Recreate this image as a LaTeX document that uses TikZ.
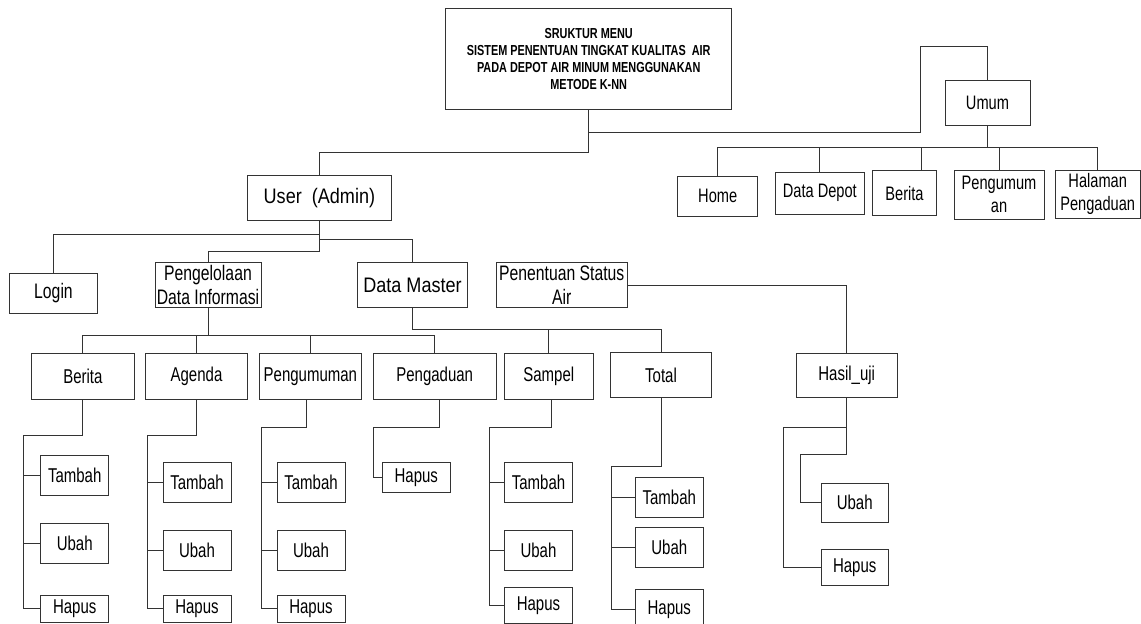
\documentclass[tikz,border=0pt]{standalone}
\usepackage{fontspec}
\newfontfamily\nar[FakeStretch=0.75]{Liberation Sans}
\newfontfamily\narw[FakeStretch=0.86]{Liberation Sans}
\begin{document}
\begin{tikzpicture}[x=1pt,y=-1pt,
  box/.style={draw=black!80, line width=0.9pt, inner sep=0pt, align=center, font=\nar\fontsize{20}{22}\selectfont},
  topbox/.style={box, font=\nar\fontsize{19.5}{22.5}\selectfont},
  big/.style={box, font=\nar\fontsize{21}{23.5}\selectfont},
  bigw/.style={box, font=\narw\fontsize{21}{23.5}\selectfont},
  ttl/.style={box, font=\nar\bfseries\fontsize{14.5}{17}\selectfont},
  conn/.style={draw=black!80, line width=0.9pt}]
\useasboundingbox (0,0) rectangle (1141,624);
% top
\node[ttl, minimum width=286, minimum height=101] (title) at (588.7,58.8)
  {SRUKTUR MENU\\SISTEM PENENTUAN TINGKAT KUALITAS\ \ AIR\\PADA DEPOT AIR MINUM MENGGUNAKAN\\METODE K-NN};
\node[topbox, minimum width=85, minimum height=45.7] (umum) at (987.5,102.9) {Umum};
\node[topbox, minimum width=80, minimum height=40.7] (home) at (717.7,196.3) {Home};
\node[topbox, minimum width=89, minimum height=42] (depot) at (819.8,193.3) {Data Depot};
\node[topbox, minimum width=64.4, minimum height=45] (uberita) at (904.5,193.2) {Berita};
\node[topbox, minimum width=90, minimum height=49] (upengum) at (999,194.5) {Pengumum\\an};
\node[topbox, minimum width=84.7, minimum height=48.3] (halaman) at (1097.7,194.2) {Halaman\\Pengaduan};
% level 1-2
\node[bigw, minimum width=143.8, minimum height=45.5] (user) at (319.4,197.8) {User\ \ (Admin)};
\node[big, minimum width=88.4, minimum height=40] (login) at (53.5,293.3) {Login};
\node[big, minimum width=106, minimum height=45] (pengel) at (208,285.2) {Pengelolaan\\Data Informasi};
\node[bigw, minimum width=110.4, minimum height=44.6] (dmaster) at (412.5,285) {Data Master};
\node[big, minimum width=131.3, minimum height=45.4] (penentuan) at (561.7,285) {Penentuan Status\\Air};
% level 3
\node[box, minimum width=102.3, minimum height=45.7] (berita) at (82.9,376.2) {Berita};
\node[box, minimum width=101.6, minimum height=45.7] (agenda) at (196.5,376.2) {Agenda};
\node[box, minimum width=101.3, minimum height=45.7] (pengumuman) at (310.4,376.2) {Pengumuman};
\node[box, minimum width=122.7, minimum height=45.7] (pengaduan) at (434.7,376.2) {Pengaduan};
\node[box, minimum width=89, minimum height=45.7] (sampel) at (548.8,376.2) {Sampel};
\node[box, minimum width=101.4, minimum height=45] (total) at (661,375.2) {Total};
\node[box, minimum width=101.3, minimum height=44.7] (hasil) at (846.7,375.3) {Hasil\_uji};
% level 4
\node[box, minimum width=68, minimum height=39.7] (bT) at (74.7,475.2) {Tambah};
\node[box, minimum width=68, minimum height=40] (bU) at (74.7,543) {Ubah};
\node[box, minimum width=68, minimum height=27.5] (bH) at (74.7,608.8) {Hapus};
\node[box, minimum width=68, minimum height=40] (aT) at (197,482.3) {Tambah};
\node[box, minimum width=68, minimum height=39.7] (aU) at (197,550.2) {Ubah};
\node[box, minimum width=68, minimum height=27.5] (aH) at (197,608.8) {Hapus};
\node[box, minimum width=68, minimum height=40] (pT) at (311,482.3) {Tambah};
\node[box, minimum width=68, minimum height=39.7] (pU) at (311,550.2) {Ubah};
\node[box, minimum width=68, minimum height=27.5] (pH) at (311,608.8) {Hapus};
\node[box, minimum width=67.3, minimum height=29.7] (dH) at (416.3,477.2) {Hapus};
\node[box, minimum width=67.6, minimum height=40] (sT) at (538.5,482.3) {Tambah};
\node[box, minimum width=67.6, minimum height=39.7] (sU) at (538.5,550.2) {Ubah};
\node[box, minimum width=67.6, minimum height=35.3] (sH) at (538.5,605.4) {Hapus};
\node[box, minimum width=68, minimum height=40] (tT) at (669.3,497) {Tambah};
\node[box, minimum width=68, minimum height=39.6] (tU) at (669.3,547.5) {Ubah};
\node[box, minimum width=68, minimum height=40.7] (tH) at (669.3,609.7) {Hapus};
\node[box, minimum width=67.3, minimum height=39.3] (hU) at (854.7,502.7) {Ubah};
\node[box, minimum width=67.3, minimum height=36] (hH) at (854.7,567.3) {Hapus};
% connectors: top
\draw[conn] (title.south) -- (588.7,152.7) -| (user.north);
\draw[conn] (588.7,132.3) -| (920.7,46) -| (umum.north);
\coordinate (ub) at (0,147.3);
\coordinate (ubx) at (921.7,0);
\draw[conn] (umum.south) -- (umum.south |- ub);
\draw[conn] (home.north) |- (halaman.north |- ub) -- (halaman.north);
\draw[conn] (depot.north) -- (depot.north |- ub);
\draw[conn] (uberita.north -| ubx) -- (ub -| ubx);
\draw[conn] (upengum.north) -- (upengum.north |- ub);
% user
\draw[conn] (user.south) -- ([yshift=-30.5pt]user.south) -| (pengel.north);
\draw[conn] ([yshift=-13.5pt]user.south) -| (login.north);
\draw[conn] ([yshift=-18.8pt]user.south) -| (dmaster.north);
% pengelolaan bus
\coordinate (pb) at (0,335);
\draw[conn] (pengel.south) -- (pengel.south |- pb);
\draw[conn] (berita.north) |- (pengaduan.north |- pb) -- (pengaduan.north);
\draw[conn] (agenda.north) -- (agenda.north |- pb);
\draw[conn] (pengumuman.north) -- (pengumuman.north |- pb);
% data master bus
\coordinate (db) at (0,329.3);
\draw[conn] (dmaster.south) |- (total.north |- db) -- (total.north);
\draw[conn] (sampel.north) -- (sampel.north |- db);
% penentuan
\draw[conn] (penentuan.east) -| (hasil.north);
% berita children
\coordinate (bx) at (23.7,435);
\draw[conn] (berita.south) |- (bx) |- (bH.west);
\draw[conn] (bT.west) -- (bT.west -| bx);
\draw[conn] (bU.west) -- (bU.west -| bx);
% agenda children
\coordinate (ax) at (147,435);
\draw[conn] (agenda.south) |- (ax) |- (aH.west);
\draw[conn] (aT.west) -- (aT.west -| ax);
\draw[conn] (aU.west) -- (aU.west -| ax);
% pengumuman children
\coordinate (px) at (261,427.7);
\draw[conn] ([xshift=-4pt]pengumuman.south) |- (px) |- (pH.west);
\draw[conn] (pT.west) -- (pT.west -| px);
\draw[conn] (pU.west) -- (pU.west -| px);
% pengaduan children
\coordinate (dx) at (373.3,427.7);
\draw[conn] ([xshift=4.3pt]pengaduan.south) |- (dx) |- (dH.west);
% sampel children
\coordinate (sx) at (489,427.7);
\draw[conn] ([xshift=2.2pt]sampel.south) |- (sx) |- (sH.west);
\draw[conn] (sT.west) -- (sT.west -| sx);
\draw[conn] (sU.west) -- (sU.west -| sx);
% total children
\coordinate (tx) at (611,466);
\draw[conn] (total.south) |- (tx) |- (tH.west);
\draw[conn] (tT.west) -- (tT.west -| tx);
\draw[conn] (tU.west) -- (tU.west -| tx);
% hasil children
\coordinate (hx1) at (800.3,454.3);
\coordinate (hx2) at (783.7,427.3);
\draw[conn] (hasil.south) |- (hx1) |- (hU.west);
\draw[conn] (hasil.south |- hx2) -- (hx2) |- (hH.west);
\end{tikzpicture}
\end{document}
